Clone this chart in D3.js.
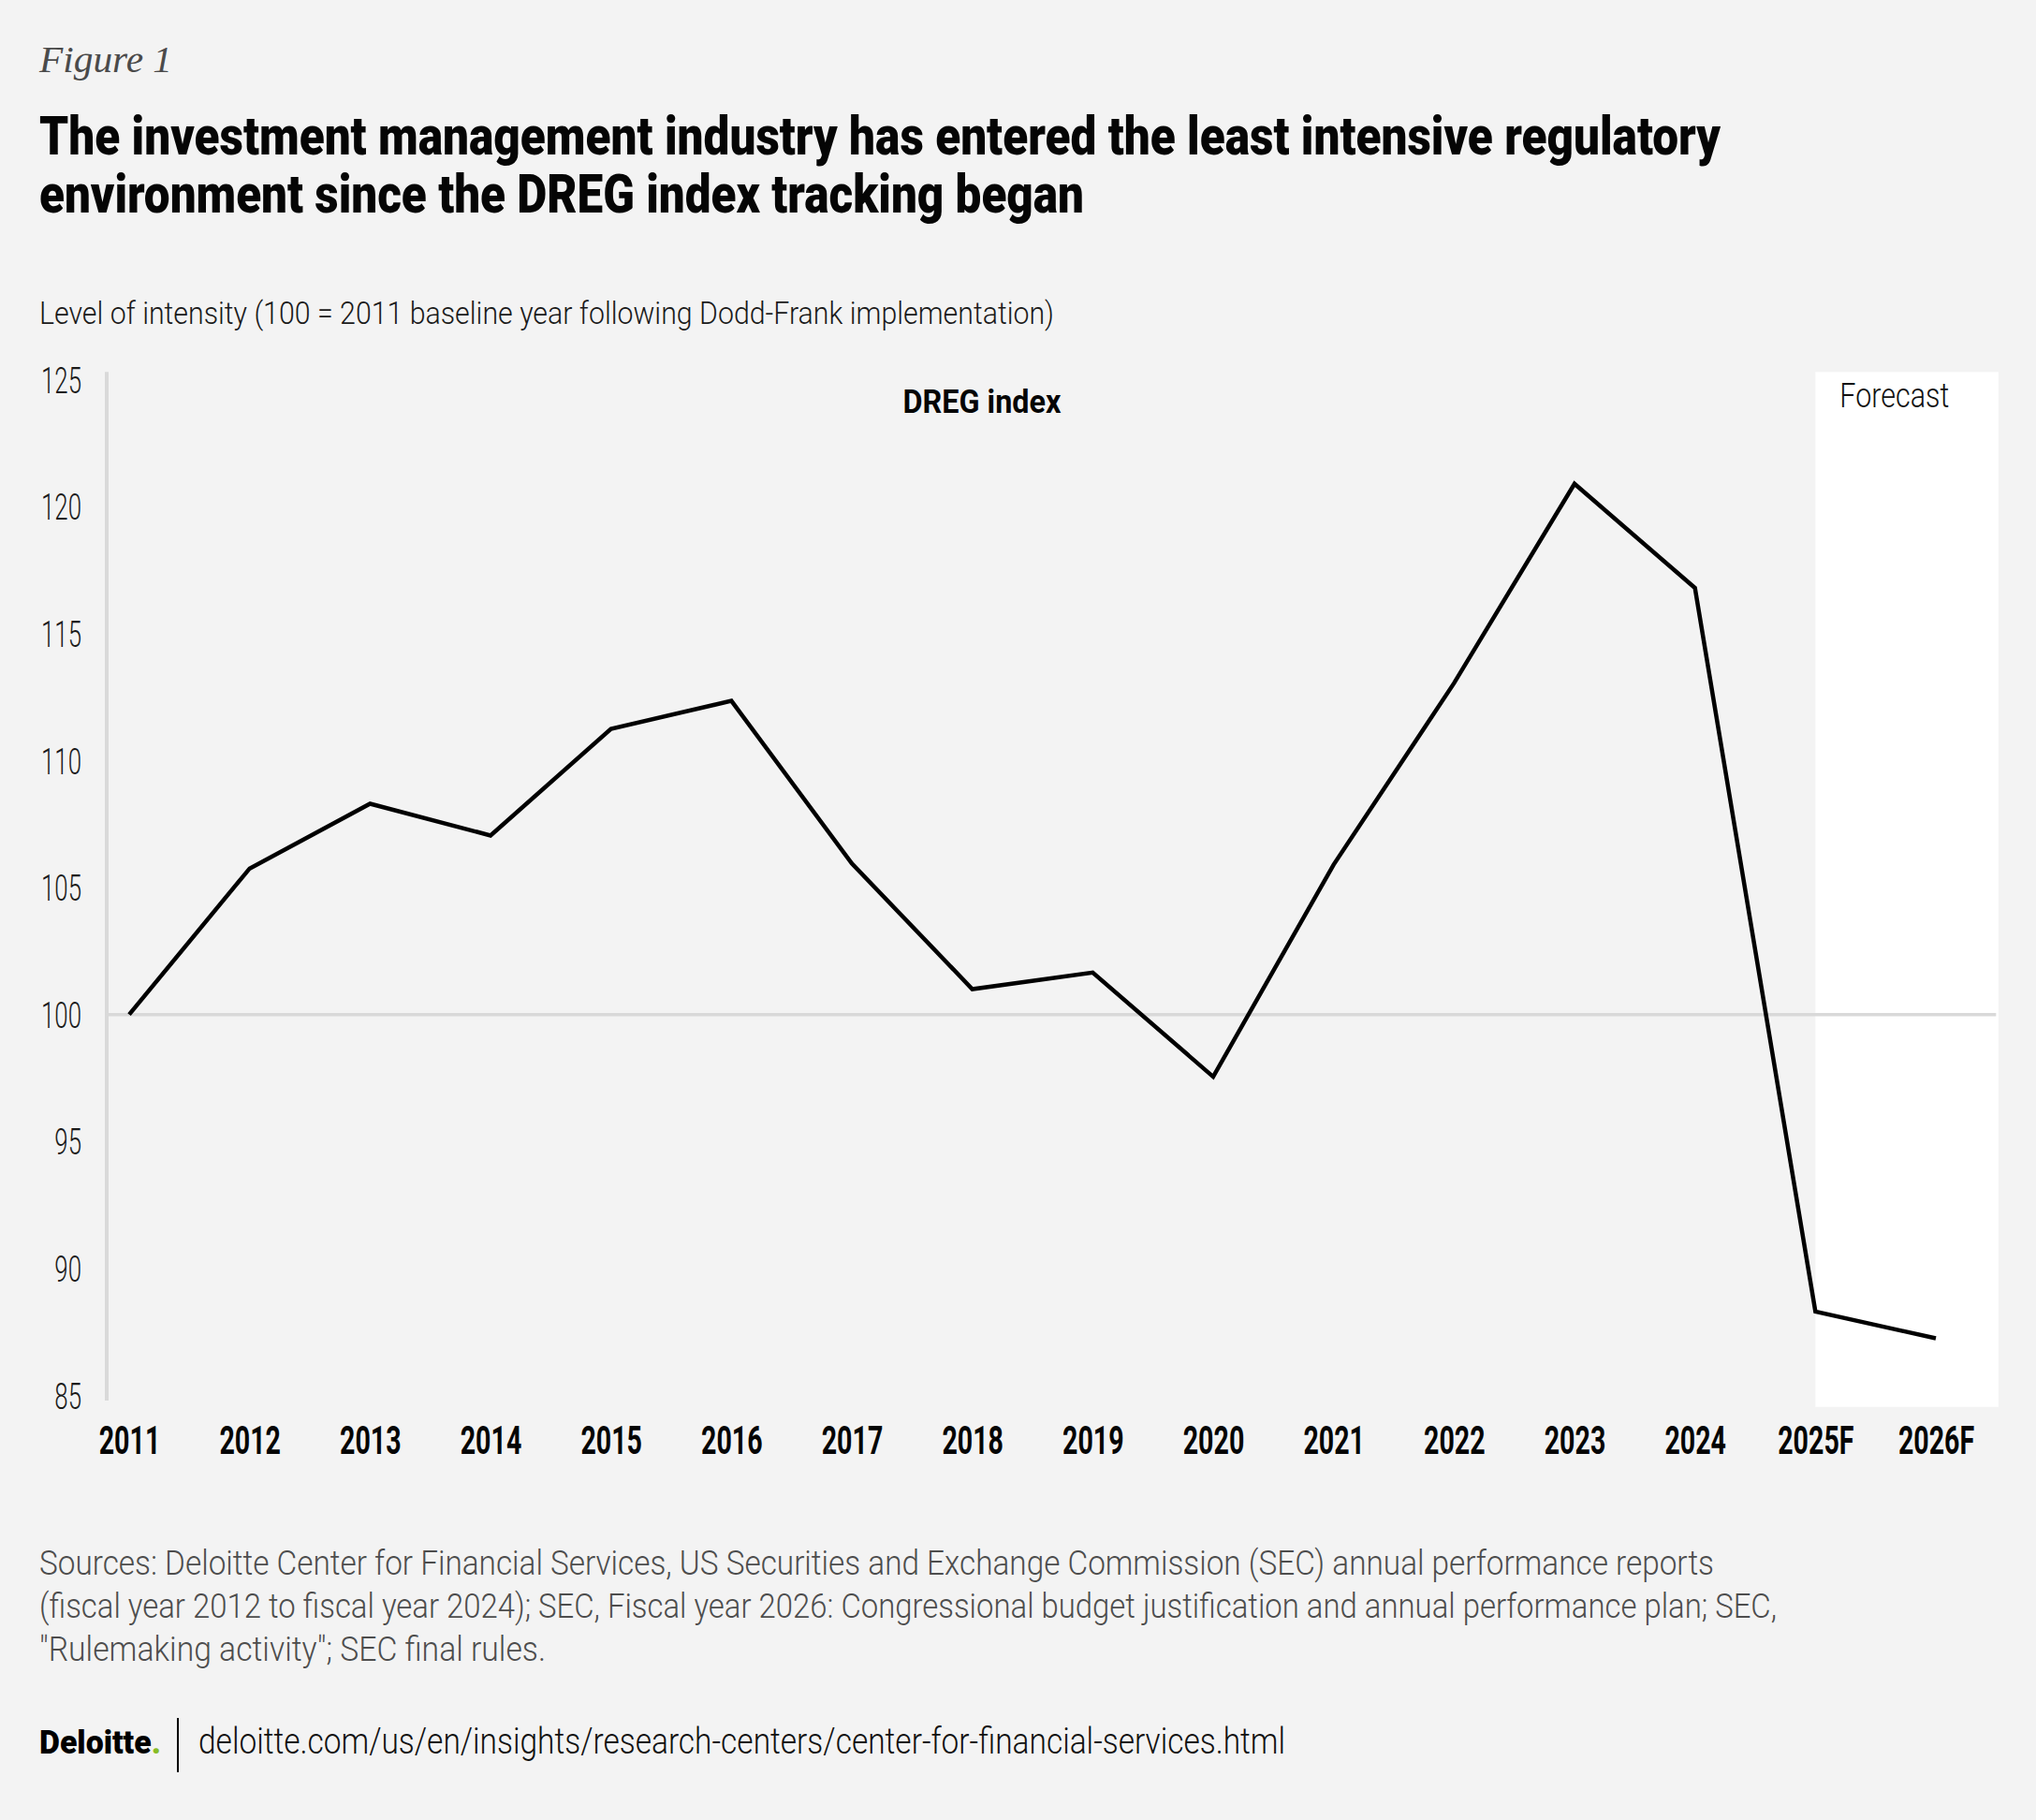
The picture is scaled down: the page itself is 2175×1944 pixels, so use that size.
<!DOCTYPE html>
<html>
<head>
<meta charset="utf-8">
<script src="https://cdn.jsdelivr.net/npm/d3@7"></script>
<style>
    body { margin: 0; background: #f3f3f3; }
    text { font-family: Roboto, "Liberation Sans", sans-serif; }
</style>
</head>
<body>
<script>
// chart data
var years = ["2011", "2012", "2013", "2014", "2015", "2016", "2017", "2018",
    "2019", "2020", "2021", "2022", "2023", "2024", "2025F", "2026F"];
var dreg = [100, 105.75, 108.3, 107.05, 111.25, 112.35, 105.95, 101.0,
    101.65, 97.55, 105.9, 113.05, 120.9, 116.8, 88.3, 87.25];
var forecastYears = ["2025F", "2026F"];
var yTicks = [85, 90, 95, 100, 105, 110, 115, 120, 125];
var baseline = 100;

var titleLines = [
    "The investment management industry has entered the least intensive regulatory",
    "environment since the DREG index tracking began"
];
var sourceLines = [
    "Sources: Deloitte Center for Financial Services, US Securities and Exchange Commission (SEC) annual performance reports",
    "(fiscal year 2012 to fiscal year 2024); SEC, Fiscal year 2026: Congressional budget justification and annual performance plan; SEC,",
    "\"Rulemaking activity\"; SEC final rules."
];

var width = 2175, height = 1944;

var svg = d3.select("body").append("svg")
    .attr("width", width)
    .attr("height", height);

svg.append("rect")
    .attr("width", width)
    .attr("height", height)
    .attr("fill", "#f3f3f3");

// squeeze text to a given width (fonts here are not condensed)
function fit(sel, w) {
    sel.attr("lengthAdjust", "spacingAndGlyphs").attr("textLength", w);
}

function squeeze(sel, k) {
    sel.each(function () {
        var n = this.getComputedTextLength();
        d3.select(this).attr("lengthAdjust", "spacingAndGlyphs").attr("textLength", n * k);
    });
}

// header
svg.append("text")
    .attr("x", 42).attr("y", 77)
    .style("font-family", "'Liberation Serif', serif")
    .style("font-style", "italic")
    .style("font-size", "40px")
    .attr("fill", "#4a4a4a")
    .text("Figure 1")
    .call(fit, 142);

var titleWidths = [1796, 1116];
titleLines.forEach(function (t, i) {
    svg.append("text")
        .attr("x", 42).attr("y", 165 + i * 62)
        .style("font-size", "58px")
        .style("font-weight", 900)
        .attr("fill", "#050505")
        .text(t)
        .call(fit, titleWidths[i]);
});

svg.append("text")
    .attr("x", 42).attr("y", 346)
    .style("font-size", "33px")
    .style("font-weight", 300)
    .attr("fill", "#1a1a1a")
    .text("Level of intensity (100 = 2011 baseline year following Dodd-Frank implementation)")
    .call(fit, 1084);

// scales
var x = d3.scalePoint()
    .domain(years)
    .range([138, 2068]);

var y = d3.scaleLinear()
    .domain([85, 125])
    .range([1490.5, 405.5]);

var step = x.step();

// forecast panel
svg.append("rect")
    .attr("x", x(forecastYears[0]))
    .attr("y", y(125.3))
    .attr("width", x(forecastYears[1]) + step * 0.52 - x(forecastYears[0]))
    .attr("height", y(84.55) - y(125.3))
    .attr("fill", "#ffffff");

svg.append("text")
    .attr("x", x(forecastYears[0]) + 26)
    .attr("y", 435)
    .style("font-size", "37px")
    .style("font-weight", 300)
    .attr("fill", "#111")
    .text("Forecast")
    .call(fit, 117);

// baseline gridline at 100
svg.append("line")
    .attr("x1", 114)
    .attr("x2", x(forecastYears[1]) + step * 0.5)
    .attr("y1", y(baseline))
    .attr("y2", y(baseline))
    .attr("stroke", "#d9d9d9")
    .attr("stroke-width", 3.5);

// y axis
var yAxis = svg.append("g")
    .attr("transform", "translate(114,0)")
    .call(d3.axisLeft(y).tickValues(yTicks).tickSize(0).tickPadding(27));

yAxis.select(".domain").remove();
yAxis.append("line")
    .attr("x1", 0).attr("x2", 0)
    .attr("y1", y(125.3)).attr("y2", y(84.8))
    .attr("stroke", "#d9d9d9")
    .attr("stroke-width", 4);

yAxis.selectAll(".tick text")
    .attr("fill", "#1a1a1a")
    .style("font-size", "38px")
    .style("font-weight", 300)
    .attr("dy", "0.36em")
    .call(squeeze, 0.68);

// x axis
var xAxis = svg.append("g")
    .attr("transform", "translate(0,1496)")
    .call(d3.axisBottom(x).tickSize(0).tickPadding(0));

xAxis.select(".domain").remove();
xAxis.selectAll(".tick text")
    .attr("fill", "#050505")
    .attr("dy", null)
    .attr("y", 57)
    .style("font-size", "42px")
    .style("font-weight", 700)
    .call(squeeze, 0.68);

// series label
svg.append("text")
    .attr("x", 1049).attr("y", 441)
    .attr("text-anchor", "middle")
    .style("font-size", "35px")
    .style("font-weight", 700)
    .attr("fill", "#050505")
    .text("DREG index")
    .call(fit, 169);

// the line
var line = d3.line()
    .x(function (d, i) { return x(years[i]); })
    .y(function (d) { return y(d); });

svg.append("path")
    .datum(dreg)
    .attr("d", line)
    .attr("fill", "none")
    .attr("stroke", "#000")
    .attr("stroke-width", 4.5)
    .attr("stroke-linejoin", "miter");

// sources
var sourceWidths = [1789, 1856, 541];
sourceLines.forEach(function (t, i) {
    svg.append("text")
        .attr("x", 42).attr("y", 1682 + i * 46)
        .style("font-size", "36px")
        .style("font-weight", 300)
        .attr("fill", "#4d4d4d")
        .text(t)
        .call(fit, sourceWidths[i]);
});

// footer: logo squeezed with a transform so its box stays true
var logo = svg.append("text")
    .style("font-size", "36px")
    .style("font-weight", 900)
    .attr("fill", "#000");
logo.append("tspan").text("Deloitte");
logo.append("tspan").attr("fill", "#86bc25").text(".");
var logoW = logo.node().getComputedTextLength();
logo.attr("transform", "translate(42,1873) scale(" + (130 / logoW) + ",1)");

svg.append("line")
    .attr("x1", 190).attr("x2", 190)
    .attr("y1", 1835).attr("y2", 1893)
    .attr("stroke", "#000")
    .attr("stroke-width", 2);

svg.append("text")
    .attr("x", 212).attr("y", 1873)
    .style("font-size", "38px")
    .style("font-weight", 300)
    .attr("fill", "#111")
    .text("deloitte.com/us/en/insights/research-centers/center-for-financial-services.html")
    .call(fit, 1161);
</script>
</body>
</html>
